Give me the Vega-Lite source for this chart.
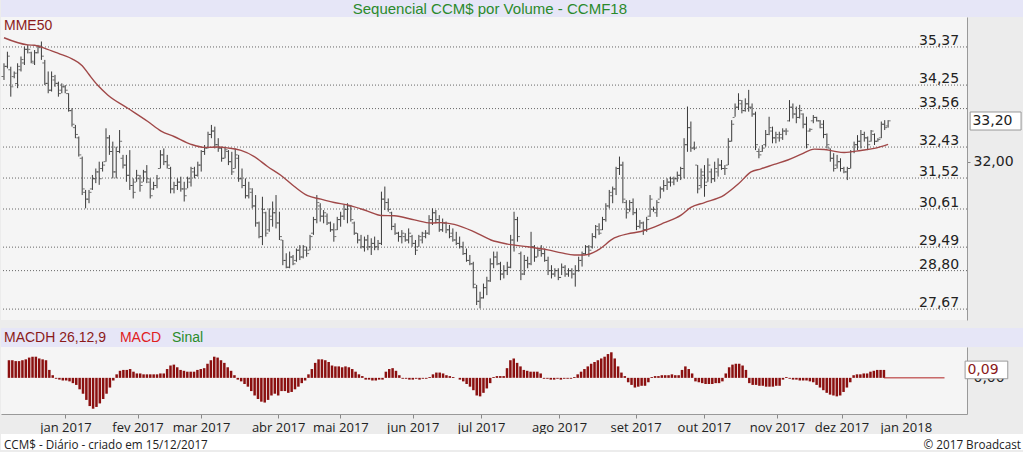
{
"$schema":"https://vega.github.io/schema/vega-lite/v6.json",
"background":"#ececec",
"padding":0,
"config":{"view":{"stroke":null},"axis":{"grid":false}},
"datasets":{
"lv":[{"v":35.37,"lab":"35,37"},{"v":34.25,"lab":"34,25"},{"v":33.56,"lab":"33,56"},{"v":32.43,"lab":"32,43"},{"v":31.52,"lab":"31,52"},{"v":30.61,"lab":"30,61"},{"v":29.49,"lab":"29,49"},{"v":28.80,"lab":"28,80"},{"v":27.67,"lab":"27,67"}],
"m":[{"i":0,"v":35.64},{"i":7,"v":35.43},{"i":9,"v":35.42},{"i":12,"v":35.33},{"i":16,"v":35.18},{"i":20,"v":35.02},{"i":23,"v":34.82},{"i":25,"v":34.56},{"i":27.5,"v":34.25},{"i":30.5,"v":33.96},{"i":36.4,"v":33.57},{"i":42.3,"v":33.18},{"i":46.2,"v":32.9},{"i":50,"v":32.74},{"i":55,"v":32.51},{"i":59,"v":32.42},{"i":63,"v":32.43},{"i":66,"v":32.4},{"i":69.7,"v":32.33},{"i":73.6,"v":32.15},{"i":77.5,"v":31.86},{"i":81.4,"v":31.6},{"i":85.4,"v":31.27},{"i":89.3,"v":31.0},{"i":93.2,"v":30.9},{"i":97.1,"v":30.8},{"i":101,"v":30.73},{"i":106.9,"v":30.55},{"i":110.9,"v":30.42},{"i":114.8,"v":30.41},{"i":120.7,"v":30.29},{"i":125.6,"v":30.2},{"i":128.5,"v":30.21},{"i":132.4,"v":30.16},{"i":138.3,"v":29.94},{"i":143.2,"v":29.7},{"i":148.1,"v":29.58},{"i":154,"v":29.5},{"i":159.9,"v":29.41},{"i":164,"v":29.32},{"i":167.7,"v":29.26},{"i":170.7,"v":29.26},{"i":174.6,"v":29.4},{"i":179.5,"v":29.76},{"i":183.4,"v":29.88},{"i":187.3,"v":29.95},{"i":191.2,"v":30.08},{"i":194,"v":30.2},{"i":199.1,"v":30.43},{"i":202,"v":30.66},{"i":206,"v":30.8},{"i":211.8,"v":31.02},{"i":216,"v":31.35},{"i":219.7,"v":31.7},{"i":222.6,"v":31.79},{"i":226.5,"v":31.92},{"i":230.5,"v":32.05},{"i":234.5,"v":32.22},{"i":238.3,"v":32.37},{"i":241.2,"v":32.36},{"i":244,"v":32.31},{"i":247.1,"v":32.27},{"i":252,"v":32.33},{"i":255.9,"v":32.39},{"i":260,"v":32.51}],
"p":[
{"i":0,"o":34.5,"h":34.89,"l":34.4,"c":34.8,"d":0.2},
{"i":1,"o":34.8,"h":35.23,"l":34.74,"c":35.1,"d":0.2},
{"i":2,"o":34.7,"h":34.79,"l":33.91,"c":34.2,"d":0.19},
{"i":3,"o":34.5,"h":34.65,"l":34.45,"c":34.6,"d":0.19},
{"i":4,"o":34.3,"h":34.89,"l":34.16,"c":34.8,"d":0.2},
{"i":5,"o":34.7,"h":35.09,"l":34.65,"c":35.0,"d":0.21},
{"i":6,"o":34.9,"h":35.38,"l":34.84,"c":35.3,"d":0.23},
{"i":7,"o":35.3,"h":35.43,"l":35.18,"c":35.3,"d":0.24},
{"i":8,"o":35.2,"h":35.23,"l":34.89,"c":34.95,"d":0.24},
{"i":9,"o":34.9,"h":35.28,"l":34.84,"c":35.2,"d":0.22},
{"i":10,"o":35.2,"h":35.43,"l":35.18,"c":35.35,"d":0.21},
{"i":11,"o":35.4,"h":35.53,"l":34.99,"c":35.1,"d":0.2},
{"i":12,"o":34.9,"h":34.99,"l":34.25,"c":34.3,"d":0.09},
{"i":13,"o":34.3,"h":34.65,"l":34.01,"c":34.1,"d":0.03},
{"i":14,"o":34.1,"h":34.65,"l":34.06,"c":34.5,"d":-0.01},
{"i":15,"o":34.4,"h":34.55,"l":34.2,"c":34.3,"d":-0.02},
{"i":16,"o":34.3,"h":34.35,"l":33.91,"c":34.0,"d":-0.03},
{"i":17,"o":34.1,"h":34.3,"l":34.01,"c":34.2,"d":-0.03},
{"i":18,"o":34.2,"h":34.25,"l":34.01,"c":34.1,"d":-0.04},
{"i":19,"o":34.0,"h":34.01,"l":33.47,"c":33.5,"d":-0.06},
{"i":20,"o":33.5,"h":33.57,"l":33.03,"c":33.1,"d":-0.08},
{"i":21,"o":33.0,"h":33.08,"l":32.69,"c":32.8,"d":-0.13},
{"i":22,"o":32.7,"h":32.74,"l":32.15,"c":32.2,"d":-0.18},
{"i":23,"o":32.1,"h":32.15,"l":31.02,"c":31.2,"d":-0.25},
{"i":24,"o":31.1,"h":31.17,"l":30.63,"c":30.9,"d":-0.32},
{"i":25,"o":30.9,"h":31.17,"l":30.78,"c":31.1,"d":-0.35},
{"i":26,"o":31.2,"h":31.61,"l":31.17,"c":31.5,"d":-0.33},
{"i":27,"o":31.5,"h":31.8,"l":31.37,"c":31.7,"d":-0.29},
{"i":28,"o":31.7,"h":32.0,"l":31.32,"c":31.5,"d":-0.24},
{"i":29,"o":31.8,"h":32.0,"l":31.71,"c":31.9,"d":-0.18},
{"i":30,"o":32.0,"h":32.98,"l":32.0,"c":32.7,"d":-0.11},
{"i":31,"o":32.7,"h":32.78,"l":32.2,"c":32.3,"d":-0.03},
{"i":32,"o":32.3,"h":32.59,"l":31.51,"c":31.7,"d":0.04},
{"i":33,"o":31.7,"h":32.44,"l":31.51,"c":32.3,"d":0.08},
{"i":34,"o":32.3,"h":32.93,"l":32.25,"c":32.6,"d":0.09},
{"i":35,"o":32.1,"h":32.2,"l":31.8,"c":31.9,"d":0.09},
{"i":36,"o":31.9,"h":32.2,"l":31.41,"c":31.6,"d":0.1},
{"i":37,"o":31.6,"h":32.34,"l":31.17,"c":31.3,"d":0.07},
{"i":38,"o":31.3,"h":31.51,"l":30.92,"c":31.1,"d":0.05},
{"i":39,"o":31.4,"h":31.76,"l":31.41,"c":31.6,"d":0.05},
{"i":40,"o":31.5,"h":31.61,"l":31.12,"c":31.3,"d":0.04},
{"i":41,"o":31.4,"h":31.76,"l":31.41,"c":31.7,"d":0.04},
{"i":42,"o":31.7,"h":31.9,"l":31.37,"c":31.5,"d":0.04},
{"i":43,"o":31.4,"h":31.51,"l":30.92,"c":31.0,"d":0.04},
{"i":44,"o":31.2,"h":31.41,"l":31.17,"c":31.3,"d":0.04},
{"i":45,"o":31.3,"h":31.61,"l":31.22,"c":31.5,"d":0.05},
{"i":46,"o":31.8,"h":32.34,"l":31.8,"c":32.2,"d":0.05},
{"i":47,"o":32.2,"h":32.39,"l":31.9,"c":32.0,"d":0.1},
{"i":48,"o":32.0,"h":32.2,"l":31.8,"c":31.9,"d":0.14},
{"i":49,"o":31.8,"h":31.85,"l":31.07,"c":31.2,"d":0.15},
{"i":50,"o":31.2,"h":31.41,"l":31.07,"c":31.3,"d":0.12},
{"i":51,"o":31.3,"h":31.51,"l":31.17,"c":31.4,"d":0.09},
{"i":52,"o":31.4,"h":31.56,"l":31.12,"c":31.2,"d":0.08},
{"i":53,"o":31.2,"h":31.41,"l":30.83,"c":31.0,"d":0.07},
{"i":54,"o":31.2,"h":31.56,"l":31.22,"c":31.5,"d":0.07},
{"i":55,"o":31.4,"h":31.85,"l":31.27,"c":31.8,"d":0.07},
{"i":56,"o":31.7,"h":31.85,"l":31.51,"c":31.6,"d":0.09},
{"i":57,"o":31.6,"h":32.0,"l":31.56,"c":31.9,"d":0.1},
{"i":58,"o":31.9,"h":32.34,"l":31.71,"c":32.3,"d":0.11},
{"i":59,"o":32.3,"h":32.49,"l":32.2,"c":32.4,"d":0.16},
{"i":60,"o":32.4,"h":32.88,"l":32.39,"c":32.8,"d":0.2},
{"i":61,"o":32.8,"h":33.08,"l":32.69,"c":32.9,"d":0.24},
{"i":62,"o":32.9,"h":33.03,"l":32.39,"c":32.5,"d":0.23},
{"i":63,"o":32.5,"h":32.69,"l":32.29,"c":32.4,"d":0.2},
{"i":64,"o":32.4,"h":32.44,"l":32.0,"c":32.1,"d":0.17},
{"i":65,"o":32.1,"h":32.44,"l":32.1,"c":32.35,"d":0.12},
{"i":66,"o":32.3,"h":32.34,"l":31.9,"c":32.0,"d":0.08},
{"i":67,"o":32.0,"h":32.29,"l":31.61,"c":31.7,"d":0.03},
{"i":68,"o":31.8,"h":32.39,"l":31.8,"c":32.2,"d":-0.02},
{"i":69,"o":32.1,"h":32.2,"l":31.41,"c":31.5,"d":-0.04},
{"i":70,"o":31.5,"h":31.8,"l":31.22,"c":31.3,"d":-0.07},
{"i":71,"o":31.3,"h":31.51,"l":30.92,"c":31.0,"d":-0.1},
{"i":72,"o":31.0,"h":31.41,"l":30.92,"c":31.2,"d":-0.15},
{"i":73,"o":31.1,"h":31.22,"l":30.63,"c":30.7,"d":-0.2},
{"i":74,"o":30.7,"h":31.02,"l":30.09,"c":30.2,"d":-0.24},
{"i":75,"o":30.2,"h":30.24,"l":29.75,"c":29.8,"d":-0.27},
{"i":76,"o":29.8,"h":30.97,"l":29.55,"c":30.6,"d":-0.28},
{"i":77,"o":30.5,"h":30.53,"l":29.8,"c":29.9,"d":-0.25},
{"i":78,"o":30.0,"h":30.63,"l":29.94,"c":30.4,"d":-0.2},
{"i":79,"o":30.3,"h":30.83,"l":30.09,"c":30.5,"d":-0.18},
{"i":80,"o":30.5,"h":31.02,"l":30.04,"c":30.2,"d":-0.2},
{"i":81,"o":30.2,"h":30.53,"l":29.7,"c":29.8,"d":-0.15},
{"i":82,"o":29.7,"h":29.7,"l":28.96,"c":29.1,"d":-0.15},
{"i":83,"o":29.1,"h":29.31,"l":28.87,"c":28.9,"d":-0.17},
{"i":84,"o":28.9,"h":29.36,"l":28.87,"c":29.2,"d":-0.16},
{"i":85,"o":29.2,"h":29.26,"l":28.96,"c":29.0,"d":-0.13},
{"i":86,"o":29.1,"h":29.45,"l":29.06,"c":29.4,"d":-0.1},
{"i":87,"o":29.4,"h":29.55,"l":29.11,"c":29.2,"d":-0.06},
{"i":88,"o":29.2,"h":29.55,"l":29.16,"c":29.5,"d":-0.03},
{"i":89,"o":29.4,"h":29.5,"l":29.21,"c":29.3,"d":0.04},
{"i":90,"o":29.4,"h":29.85,"l":29.4,"c":29.8,"d":0.1},
{"i":91,"o":29.9,"h":30.38,"l":29.85,"c":30.3,"d":0.17},
{"i":92,"o":30.3,"h":31.02,"l":30.19,"c":30.8,"d":0.21},
{"i":93,"o":30.7,"h":30.78,"l":30.24,"c":30.4,"d":0.21},
{"i":94,"o":30.4,"h":30.58,"l":30.19,"c":30.5,"d":0.2},
{"i":95,"o":30.4,"h":30.48,"l":30.14,"c":30.2,"d":0.18},
{"i":96,"o":30.2,"h":30.24,"l":29.94,"c":30.0,"d":0.14},
{"i":97,"o":30.0,"h":30.19,"l":29.65,"c":29.8,"d":0.13},
{"i":98,"o":30.0,"h":30.38,"l":29.99,"c":30.3,"d":0.13},
{"i":99,"o":30.3,"h":30.53,"l":30.09,"c":30.4,"d":0.12},
{"i":100,"o":30.4,"h":30.73,"l":30.29,"c":30.6,"d":0.13},
{"i":101,"o":30.6,"h":30.78,"l":30.19,"c":30.7,"d":0.12},
{"i":102,"o":30.7,"h":30.73,"l":30.24,"c":30.3,"d":0.1},
{"i":103,"o":30.2,"h":30.24,"l":29.85,"c":29.9,"d":0.07},
{"i":104,"o":29.9,"h":29.9,"l":29.6,"c":29.7,"d":0.04},
{"i":105,"o":29.7,"h":29.85,"l":29.45,"c":29.5,"d":0.02},
{"i":106,"o":29.5,"h":29.8,"l":29.36,"c":29.7,"d":-0.02},
{"i":107,"o":29.7,"h":29.85,"l":29.4,"c":29.5,"d":-0.02},
{"i":108,"o":29.5,"h":29.75,"l":29.26,"c":29.6,"d":-0.03},
{"i":109,"o":29.6,"h":29.8,"l":29.4,"c":29.5,"d":-0.03},
{"i":110,"o":29.5,"h":29.7,"l":29.4,"c":29.6,"d":-0.02},
{"i":111,"o":29.6,"h":31.12,"l":29.55,"c":30.9,"d":-0.02},
{"i":112,"o":30.9,"h":31.27,"l":30.58,"c":30.8,"d":0.07},
{"i":113,"o":30.8,"h":30.92,"l":30.53,"c":30.6,"d":0.1},
{"i":114,"o":30.5,"h":30.53,"l":29.99,"c":30.1,"d":0.11},
{"i":115,"o":30.1,"h":30.19,"l":29.85,"c":29.9,"d":0.08},
{"i":116,"o":29.9,"h":29.94,"l":29.65,"c":29.8,"d":0.03},
{"i":117,"o":29.8,"h":29.99,"l":29.6,"c":29.9,"d":-0.01},
{"i":118,"o":29.8,"h":29.9,"l":29.65,"c":29.7,"d":-0.01},
{"i":119,"o":29.7,"h":30.04,"l":29.6,"c":29.9,"d":-0.02},
{"i":120,"o":29.8,"h":29.85,"l":29.5,"c":29.6,"d":-0.02},
{"i":121,"o":29.6,"h":29.7,"l":29.26,"c":29.4,"d":-0.01},
{"i":122,"o":29.5,"h":29.85,"l":29.5,"c":29.8,"d":-0.02},
{"i":123,"o":29.7,"h":29.94,"l":29.6,"c":29.9,"d":-0.01},
{"i":124,"o":29.8,"h":29.99,"l":29.75,"c":29.9,"d":-0.01},
{"i":125,"o":29.9,"h":30.43,"l":29.85,"c":30.3,"d":0.01},
{"i":126,"o":30.3,"h":30.63,"l":30.14,"c":30.5,"d":0.04},
{"i":127,"o":30.5,"h":30.58,"l":30.19,"c":30.3,"d":0.06},
{"i":128,"o":30.3,"h":30.43,"l":29.94,"c":30.0,"d":0.06},
{"i":129,"o":30.0,"h":30.33,"l":29.94,"c":30.2,"d":0.05},
{"i":130,"o":30.2,"h":30.24,"l":29.9,"c":30.0,"d":0.03},
{"i":131,"o":30.0,"h":30.14,"l":29.75,"c":29.8,"d":0.02},
{"i":132,"o":29.9,"h":30.04,"l":29.65,"c":29.7,"d":0.01},
{"i":133,"o":29.7,"h":29.94,"l":29.55,"c":29.6,"d":0.0},
{"i":134,"o":29.6,"h":29.8,"l":29.45,"c":29.5,"d":-0.02},
{"i":135,"o":29.5,"h":29.65,"l":29.26,"c":29.3,"d":-0.04},
{"i":136,"o":29.3,"h":29.45,"l":29.06,"c":29.1,"d":-0.07},
{"i":137,"o":29.1,"h":29.26,"l":28.96,"c":29.0,"d":-0.1},
{"i":138,"o":29.0,"h":29.06,"l":28.28,"c":28.4,"d":-0.14},
{"i":139,"o":28.3,"h":28.38,"l":27.79,"c":27.9,"d":-0.2},
{"i":140,"o":27.9,"h":28.18,"l":27.69,"c":28.0,"d":-0.21},
{"i":141,"o":28.0,"h":28.42,"l":27.98,"c":28.3,"d":-0.17},
{"i":142,"o":28.3,"h":28.62,"l":28.08,"c":28.5,"d":-0.12},
{"i":143,"o":28.5,"h":29.16,"l":28.47,"c":29.0,"d":-0.06},
{"i":144,"o":29.0,"h":29.36,"l":28.87,"c":29.2,"d":0.01},
{"i":145,"o":29.2,"h":29.36,"l":28.96,"c":29.0,"d":0.02},
{"i":146,"o":29.0,"h":29.06,"l":28.52,"c":28.7,"d":0.02},
{"i":147,"o":28.7,"h":28.96,"l":28.57,"c":28.8,"d":0.02},
{"i":148,"o":28.8,"h":29.06,"l":28.67,"c":28.9,"d":0.11},
{"i":149,"o":28.9,"h":29.85,"l":28.87,"c":29.7,"d":0.2},
{"i":150,"o":29.7,"h":30.53,"l":29.36,"c":30.3,"d":0.22},
{"i":151,"o":30.3,"h":30.38,"l":29.65,"c":29.8,"d":0.17},
{"i":152,"o":29.3,"h":29.36,"l":28.52,"c":28.7,"d":0.13},
{"i":153,"o":28.7,"h":29.26,"l":28.67,"c":29.1,"d":0.09},
{"i":154,"o":29.1,"h":29.21,"l":28.87,"c":29.0,"d":0.08},
{"i":155,"o":29.0,"h":29.94,"l":28.96,"c":29.5,"d":0.07},
{"i":156,"o":29.5,"h":29.55,"l":29.06,"c":29.2,"d":0.07},
{"i":157,"o":29.2,"h":29.45,"l":29.21,"c":29.4,"d":0.07},
{"i":158,"o":29.4,"h":29.55,"l":29.21,"c":29.3,"d":0.05},
{"i":159,"o":29.3,"h":29.45,"l":29.06,"c":29.1,"d":-0.01},
{"i":160,"o":29.1,"h":29.21,"l":28.67,"c":28.8,"d":-0.01},
{"i":161,"o":28.8,"h":28.96,"l":28.57,"c":28.7,"d":-0.02},
{"i":162,"o":28.7,"h":28.87,"l":28.62,"c":28.8,"d":-0.02},
{"i":163,"o":28.8,"h":28.87,"l":28.52,"c":28.6,"d":-0.01},
{"i":164,"o":28.6,"h":29.01,"l":28.67,"c":28.9,"d":-0.02},
{"i":165,"o":28.9,"h":28.96,"l":28.62,"c":28.7,"d":-0.01},
{"i":166,"o":28.7,"h":28.87,"l":28.62,"c":28.8,"d":-0.01},
{"i":167,"o":28.8,"h":28.87,"l":28.57,"c":28.7,"d":-0.01},
{"i":168,"o":28.7,"h":28.96,"l":28.33,"c":28.8,"d":0.01},
{"i":169,"o":28.8,"h":29.21,"l":28.77,"c":29.1,"d":0.04},
{"i":170,"o":29.1,"h":29.36,"l":28.92,"c":29.3,"d":0.07},
{"i":171,"o":29.3,"h":29.55,"l":29.26,"c":29.5,"d":0.1},
{"i":172,"o":29.5,"h":29.55,"l":29.21,"c":29.4,"d":0.13},
{"i":173,"o":29.5,"h":29.9,"l":29.45,"c":29.8,"d":0.16},
{"i":174,"o":29.8,"h":30.14,"l":29.75,"c":30.1,"d":0.18},
{"i":175,"o":30.0,"h":30.19,"l":29.85,"c":29.9,"d":0.2},
{"i":176,"o":30.0,"h":30.38,"l":29.99,"c":30.3,"d":0.22},
{"i":177,"o":30.3,"h":30.78,"l":30.24,"c":30.7,"d":0.24},
{"i":178,"o":30.7,"h":31.17,"l":30.63,"c":31.1,"d":0.27},
{"i":179,"o":31.0,"h":31.27,"l":30.78,"c":31.2,"d":0.29},
{"i":180,"o":31.2,"h":31.85,"l":31.02,"c":31.8,"d":0.22},
{"i":181,"o":31.8,"h":32.15,"l":31.61,"c":31.9,"d":0.13},
{"i":182,"o":31.9,"h":32.0,"l":30.78,"c":30.9,"d":0.06},
{"i":183,"o":30.8,"h":30.87,"l":30.33,"c":30.5,"d":0.02},
{"i":184,"o":30.6,"h":30.87,"l":30.53,"c":30.8,"d":-0.05},
{"i":185,"o":30.8,"h":30.92,"l":30.43,"c":30.5,"d":-0.08},
{"i":186,"o":30.5,"h":30.63,"l":29.99,"c":30.1,"d":-0.11},
{"i":187,"o":30.1,"h":30.29,"l":30.04,"c":30.2,"d":-0.1},
{"i":188,"o":30.2,"h":30.24,"l":29.85,"c":30.0,"d":-0.09},
{"i":189,"o":30.0,"h":30.38,"l":29.94,"c":30.3,"d":-0.09},
{"i":190,"o":30.4,"h":31.02,"l":30.38,"c":30.9,"d":-0.05},
{"i":191,"o":30.6,"h":30.68,"l":30.53,"c":30.6,"d":0.01},
{"i":192,"o":30.5,"h":30.87,"l":30.38,"c":30.8,"d":0.02},
{"i":193,"o":30.9,"h":31.27,"l":30.92,"c":31.2,"d":0.02},
{"i":194,"o":31.2,"h":31.46,"l":31.12,"c":31.3,"d":0.03},
{"i":195,"o":31.3,"h":31.51,"l":31.17,"c":31.4,"d":0.03},
{"i":196,"o":31.4,"h":31.56,"l":31.27,"c":31.5,"d":0.03},
{"i":197,"o":31.4,"h":31.56,"l":31.31,"c":31.5,"d":0.04},
{"i":198,"o":31.5,"h":31.71,"l":31.41,"c":31.6,"d":0.03},
{"i":199,"o":31.6,"h":31.85,"l":31.46,"c":31.8,"d":0.03},
{"i":200,"o":31.8,"h":32.69,"l":31.51,"c":32.5,"d":0.09},
{"i":201,"o":32.5,"h":33.62,"l":32.29,"c":33.0,"d":0.13},
{"i":202,"o":33.0,"h":33.18,"l":32.29,"c":32.4,"d":0.1},
{"i":203,"o":32.4,"h":32.59,"l":32.34,"c":32.4,"d":0.05},
{"i":204,"o":31.9,"h":31.9,"l":31.07,"c":31.2,"d":-0.04},
{"i":205,"o":31.3,"h":31.8,"l":31.22,"c":31.7,"d":-0.05},
{"i":206,"o":31.6,"h":31.9,"l":30.97,"c":31.3,"d":-0.06},
{"i":207,"o":31.4,"h":32.1,"l":31.41,"c":31.9,"d":-0.07},
{"i":208,"o":31.7,"h":31.8,"l":31.37,"c":31.5,"d":-0.07},
{"i":209,"o":31.5,"h":32.0,"l":31.41,"c":31.8,"d":-0.07},
{"i":210,"o":31.7,"h":32.1,"l":31.56,"c":31.9,"d":-0.06},
{"i":211,"o":31.9,"h":32.05,"l":31.76,"c":31.8,"d":-0.06},
{"i":212,"o":31.8,"h":31.9,"l":31.61,"c":31.8,"d":-0.04},
{"i":213,"o":31.9,"h":32.69,"l":31.9,"c":32.6,"d":0.05},
{"i":214,"o":32.6,"h":33.22,"l":32.59,"c":33.1,"d":0.12},
{"i":215,"o":33.3,"h":33.71,"l":33.32,"c":33.6,"d":0.15},
{"i":216,"o":33.6,"h":34.01,"l":33.52,"c":33.8,"d":0.16},
{"i":217,"o":33.7,"h":33.81,"l":33.42,"c":33.5,"d":0.16},
{"i":218,"o":33.5,"h":33.86,"l":33.47,"c":33.7,"d":0.14},
{"i":219,"o":33.7,"h":34.11,"l":33.47,"c":33.6,"d":0.09},
{"i":220,"o":33.6,"h":33.71,"l":33.32,"c":33.4,"d":-0.06},
{"i":221,"o":33.4,"h":33.47,"l":32.34,"c":32.5,"d":-0.08},
{"i":222,"o":32.3,"h":32.39,"l":32.1,"c":32.2,"d":-0.08},
{"i":223,"o":32.3,"h":32.49,"l":32.29,"c":32.4,"d":-0.09},
{"i":224,"o":32.5,"h":32.93,"l":32.44,"c":32.8,"d":-0.09},
{"i":225,"o":32.8,"h":33.32,"l":32.78,"c":33.0,"d":-0.1},
{"i":226,"o":32.9,"h":33.03,"l":32.54,"c":32.7,"d":-0.1},
{"i":227,"o":32.7,"h":32.88,"l":32.54,"c":32.8,"d":-0.1},
{"i":228,"o":32.7,"h":32.88,"l":32.59,"c":32.8,"d":-0.09},
{"i":229,"o":32.7,"h":32.98,"l":32.64,"c":32.9,"d":-0.09},
{"i":230,"o":32.9,"h":32.98,"l":32.78,"c":32.9,"d":-0.02},
{"i":231,"o":33.2,"h":33.81,"l":33.18,"c":33.6,"d":0.01},
{"i":232,"o":33.6,"h":33.71,"l":33.27,"c":33.4,"d":-0.01},
{"i":233,"o":33.4,"h":33.62,"l":33.13,"c":33.3,"d":-0.02},
{"i":234,"o":33.3,"h":33.67,"l":33.27,"c":33.5,"d":-0.02},
{"i":235,"o":33.4,"h":33.42,"l":32.98,"c":33.1,"d":-0.03},
{"i":236,"o":33.1,"h":33.32,"l":32.39,"c":32.5,"d":-0.03},
{"i":237,"o":32.9,"h":32.98,"l":32.88,"c":32.95,"d":-0.03},
{"i":238,"o":33.2,"h":33.37,"l":33.13,"c":33.3,"d":-0.04},
{"i":239,"o":33.3,"h":33.32,"l":33.18,"c":33.2,"d":-0.05},
{"i":240,"o":33.2,"h":33.22,"l":32.98,"c":33.0,"d":-0.08},
{"i":241,"o":33.1,"h":33.22,"l":32.69,"c":32.8,"d":-0.11},
{"i":242,"o":32.8,"h":32.83,"l":32.39,"c":32.5,"d":-0.14},
{"i":243,"o":32.4,"h":32.39,"l":32.0,"c":32.1,"d":-0.17},
{"i":244,"o":32.1,"h":32.25,"l":31.71,"c":31.8,"d":-0.19},
{"i":245,"o":31.9,"h":32.2,"l":31.8,"c":32.0,"d":-0.2},
{"i":246,"o":32.0,"h":32.1,"l":31.71,"c":31.8,"d":-0.21},
{"i":247,"o":31.8,"h":31.85,"l":31.66,"c":31.7,"d":-0.2},
{"i":248,"o":31.7,"h":31.85,"l":31.46,"c":31.8,"d":-0.16},
{"i":249,"o":31.8,"h":32.34,"l":31.8,"c":32.3,"d":-0.11},
{"i":250,"o":32.3,"h":32.59,"l":32.25,"c":32.5,"d":-0.05},
{"i":251,"o":32.5,"h":32.78,"l":32.34,"c":32.6,"d":0.03},
{"i":252,"o":32.6,"h":32.93,"l":32.39,"c":32.8,"d":0.04},
{"i":253,"o":32.8,"h":32.88,"l":32.59,"c":32.7,"d":0.04},
{"i":254,"o":32.7,"h":32.74,"l":32.34,"c":32.5,"d":0.05},
{"i":255,"o":32.6,"h":32.93,"l":32.59,"c":32.9,"d":0.05},
{"i":256,"o":32.8,"h":32.83,"l":32.49,"c":32.6,"d":0.07},
{"i":257,"o":32.6,"h":32.69,"l":32.59,"c":32.65,"d":0.08},
{"i":258,"o":32.7,"h":33.18,"l":32.69,"c":33.1,"d":0.09},
{"i":259,"o":33.1,"h":33.22,"l":32.93,"c":33.0,"d":0.09},
{"i":260,"o":33.05,"h":33.22,"l":33.0,"c":33.2,"d":0.09}
]},
"spacing":8,
"vconcat":[
{"spacing":0,"vconcat":[
 {"width":1023,"height":17,"view":{"fill":"#e6e6f7"},
  "data":{"values":[{"t":"Sequencial CCM$ por Volume - CCMF18"}]},
  "mark":{"type":"text","font":"Liberation Sans","fontSize":15,"color":"#2b8a2b","align":"center","baseline":"middle"},
  "encoding":{"text":{"field":"t"},"x":{"datum":142.9,"type":"quantitative","scale":{"domain":[-0.88,300],"nice":false,"zero":false},"axis":null}}},
 {"width":966,"height":303,"view":{"fill":"#f5f5f5"},
  "layer":[
   {"data":{"name":"lv"},"mark":{"type":"rule","color":"#666666","strokeDash":[1,2],"strokeWidth":1},
    "encoding":{"y":{"field":"v","type":"quantitative","scale":{"domain":[27.35,36.25],"nice":false,"zero":false},
      "axis":{"orient":"right","values":[32],"labelExpr":"replace(format(datum.value, '.2f'), '.', ',')","labelFont":"DejaVu Sans","labelFontSize":14,"labelColor":"#222222","tickSize":3,"tickColor":"#888888","domainColor":"#999999","labelPadding":3,"title":null,"grid":false}}}},
   {"data":{"name":"lv"},"mark":{"type":"text","font":"DejaVu Sans","fontSize":14,"color":"#222222","align":"right","baseline":"alphabetic","dy":-2},
    "encoding":{"text":{"field":"lab"},"y":{"field":"v","type":"quantitative","axis":{"title":null}},
      "x":{"datum":280.9,"type":"quantitative","scale":{"domain":[-0.88,283.2],"nice":false,"zero":false},"axis":null}}},
   {"data":{"name":"p"},"mark":{"type":"rule","color":"#3a3a3a","strokeWidth":1},
    "encoding":{"x":{"field":"i","type":"quantitative","axis":null},"y":{"field":"l","type":"quantitative","axis":{"title":null}},"y2":{"field":"h"}}},
   {"data":{"name":"p"},"mark":{"type":"tick","orient":"horizontal","color":"#3a3a3a","size":2,"thickness":1,"xOffset":-1.5},
    "encoding":{"x":{"field":"i","type":"quantitative","axis":null},"y":{"field":"o","type":"quantitative","axis":{"title":null}}}},
   {"data":{"name":"p"},"mark":{"type":"tick","orient":"horizontal","color":"#3a3a3a","size":2,"thickness":1,"xOffset":1.5},
    "encoding":{"x":{"field":"i","type":"quantitative","axis":null},"y":{"field":"c","type":"quantitative","axis":{"title":null}}}},
   {"data":{"name":"m"},"mark":{"type":"line","color":"#a04848","strokeWidth":1.4,"interpolate":"monotone"},
    "encoding":{"x":{"field":"i","type":"quantitative","axis":null},"y":{"field":"v","type":"quantitative","axis":{"title":null}}}},
   {"data":{"values":[{"t":"MME50"}]},"mark":{"type":"text","font":"Liberation Sans","fontSize":14,"color":"#8b1c1c","align":"left","baseline":"middle"},
    "encoding":{"text":{"field":"t"},"x":{"datum":0,"type":"quantitative","axis":null},"y":{"datum":36.0,"type":"quantitative","axis":{"title":null}}}},
   {"data":{"values":[{"t":"33,20"}]},"mark":{"type":"rect","fill":"#ffffff","stroke":"#999999","strokeWidth":1},
    "encoding":{"x":{"datum":284.12,"type":"quantitative","axis":null},"x2":{"datum":299.1},"y":{"datum":33.46,"type":"quantitative","axis":{"title":null}},"y2":{"datum":32.93}}},
   {"data":{"values":[{"t":"33,20"}]},"mark":{"type":"text","font":"DejaVu Sans","fontSize":14,"color":"#222222","align":"left","baseline":"middle"},
    "encoding":{"text":{"field":"t"},"x":{"datum":284.8,"type":"quantitative","axis":null},"y":{"datum":33.19,"type":"quantitative","axis":{"title":null}}}}
  ]}
]},
{"spacing":0,"vconcat":[
 {"width":1023,"height":19,"view":{"fill":"#e6e6f7"},
  "data":{"values":[{"a":"MACDH 26,12,9","b":"MACD","s":"Sinal"}]},
  "layer":[
   {"mark":{"type":"text","font":"Liberation Sans","fontSize":14,"color":"#8b1a1a","align":"left","baseline":"middle"},
    "encoding":{"text":{"field":"a"},"x":{"datum":0,"type":"quantitative","scale":{"domain":[-0.88,300],"nice":false,"zero":false},"axis":null}}},
   {"mark":{"type":"text","font":"Liberation Sans","fontSize":14,"color":"#e0201e","align":"left","baseline":"middle"},
    "encoding":{"text":{"field":"b"},"x":{"datum":34.1,"type":"quantitative","axis":null}}},
   {"mark":{"type":"text","font":"Liberation Sans","fontSize":14,"color":"#2a8c2a","align":"left","baseline":"middle"},
    "encoding":{"text":{"field":"s"},"x":{"datum":49.4,"type":"quantitative","axis":null}}}
  ]},
 {"width":966,"height":67,"view":{"fill":"#f5f5f5"},
  "layer":[
   {"data":{"name":"p"},"mark":{"type":"bar","color":"#8b1010","size":2.5},
    "encoding":{
     "x":{"field":"i","type":"quantitative","scale":{"domain":[-0.88,283.2],"nice":false,"zero":false},
      "axis":{"orient":"bottom","values":[16.8,38.2,57.1,80,98.5,120,140.3,163.5,186.2,206.5,228.2,247.4,266.5],
       "labelExpr":"['jan 2017','fev 2017','mar 2017','abr 2017','mai 2017','jun 2017','jul 2017','ago 2017','set 2017','out 2017','nov 2017','dez 2017','jan 2018'][indexof([16.8,38.2,57.1,80,98.5,120,140.3,163.5,186.2,206.5,228.2,247.4,266.5], datum.value)]",
       "labelFont":"Open Sans","labelFontSize":13,"labelColor":"#222222","tickSize":4,"tickColor":"#888888","domainColor":"#999999","labelPadding":3,"title":null,"grid":false,"labelOverlap":false}},
     "y":{"field":"d","type":"quantitative","scale":{"domain":[-0.41,0.35],"nice":false},
      "axis":{"orient":"right","values":[0],"labelExpr":"'0,00'","labelFont":"DejaVu Sans","labelFontSize":14,"labelColor":"#222222","tickSize":3,"tickColor":"#888888","domainColor":"#999999","labelPadding":3,"title":null,"grid":false}}}},
   {"data":{"values":[{"i":260,"z":0},{"i":278,"z":0}]},"mark":{"type":"line","color":"#b02020","strokeWidth":1},
    "encoding":{"x":{"field":"i","type":"quantitative","axis":{"title":null}},"y":{"field":"z","type":"quantitative","axis":{"title":null}}}},
   {"data":{"values":[{"t":"0,09"}]},"mark":{"type":"rect","fill":"#ffffff","stroke":"#999999","strokeWidth":1},
    "encoding":{"x":{"datum":284.12,"type":"quantitative","axis":{"title":null}},"x2":{"datum":296.8},"y":{"datum":0.19,"type":"quantitative","axis":{"title":null}},"y2":{"datum":-0.01}}},
   {"data":{"values":[{"t":"0,09"}]},"mark":{"type":"text","font":"DejaVu Sans","fontSize":14,"color":"#8b1a1a","align":"left","baseline":"middle"},
    "encoding":{"text":{"field":"t"},"x":{"datum":284.8,"type":"quantitative","axis":{"title":null}},"y":{"datum":0.09,"type":"quantitative","axis":{"title":null}}}}
  ]},
 {"width":1023,"height":16,"view":{"fill":"#ffffff"},
  "data":{"values":[{"a":"CCM$ - Diário - criado em 15/12/2017","b":"© 2017 Broadcast"}]},
  "layer":[
   {"mark":{"type":"text","font":"Open Sans","fontSize":11.7,"color":"#222222","align":"left","baseline":"bottom","dy":1},
    "encoding":{"text":{"field":"a"},"x":{"datum":0,"type":"quantitative","scale":{"domain":[-0.88,300],"nice":false,"zero":false},"axis":null},"y":{"datum":0,"type":"quantitative","scale":{"domain":[0,1]},"axis":null}}},
   {"mark":{"type":"text","font":"Open Sans","fontSize":11.7,"color":"#222222","align":"right","baseline":"bottom","dy":1},
    "encoding":{"text":{"field":"b"},"x":{"datum":299.1,"type":"quantitative","axis":null},"y":{"datum":0,"type":"quantitative","axis":null}}}
  ]}
]}
]
}
